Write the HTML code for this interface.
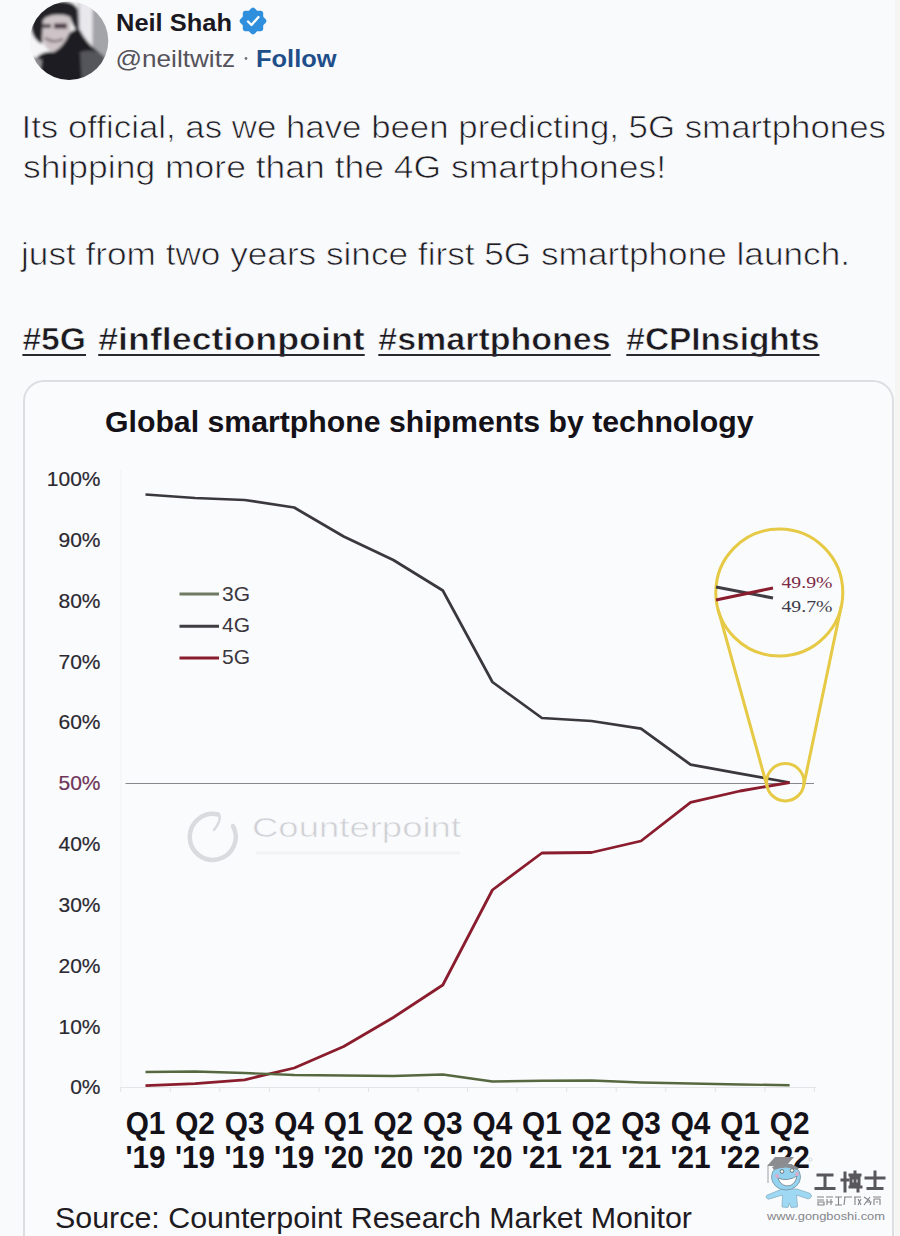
<!DOCTYPE html>
<html><head><meta charset="utf-8">
<style>
html,body{margin:0;padding:0;width:900px;height:1236px;overflow:hidden;background:#f9fafc;}
svg{display:block;}
text{font-family:"Liberation Sans",sans-serif;}
</style></head>
<body>
<svg width="900" height="1236" viewBox="0 0 900 1236">
<defs>
<clipPath id="av"><circle cx="69" cy="40.8" r="39.3"/></clipPath>
<filter id="blur1" x="-20%" y="-20%" width="140%" height="140%"><feGaussianBlur stdDeviation="1.6"/></filter>
</defs>
<rect x="0" y="0" width="900" height="1236" fill="#f9fafc"/>
<rect x="895" y="0" width="5" height="1236" fill="#f6f5f3"/>

<!-- avatar -->
<g clip-path="url(#av)">
 <g filter="url(#blur1)">
  <rect x="26" y="0" width="86" height="84" fill="#f5f5f7"/>
  <rect x="78" y="0" width="34" height="84" fill="#c2c2c7"/>
  <rect x="80" y="0" width="12" height="52" fill="#e9e8ec"/>
  <rect x="93" y="0" width="18" height="84" fill="#a3a3aa"/>
  <path d="M31 28 Q33 2 55 1 Q75 0 78 10 L79 34 Q73 27 70 17 Q57 12 45 18 L42 44 Q33 40 31 28 Z" fill="#232226"/>
  <path d="M43 20 Q56 12 70 17 Q72 30 70 42 Q63 52 53 52 Q44 49 42 38 Z" fill="#cdc4c7"/>
  <rect x="43" y="24" width="8" height="4" fill="#4e4448"/>
  <rect x="54" y="23.5" width="13" height="5" fill="#4a3440"/>
  <path d="M45 38 Q54 44 63 39" stroke="#7a6e72" stroke-width="2.2" fill="none"/>
  <path d="M34 60 Q42 50 54 52 Q64 46 69 34 Q74 28 80 30 Q86 42 96 50 Q104 56 110 66 L110 90 L30 90 Z" fill="#1e1d22"/>
  <path d="M80 52 Q94 48 104 56 L110 84 L82 84 Z" fill="#55545b"/>
  <path d="M26 58 Q34 56 42 60 L41 70 Q34 70 26 68 Z" fill="#8e8d93"/>
 </g>
</g>

<!-- name -->
<text x="116" y="30.6" font-size="24" font-weight="700" fill="#1a1820" textLength="116" lengthAdjust="spacingAndGlyphs">Neil Shah</text>
<g transform="translate(253,21)">
  <path d="M13.40 0.00 L13.34 0.52 L13.15 1.03 L12.86 1.52 L12.48 1.98 L12.06 2.40 L11.63 2.79 L11.22 3.16 L10.85 3.53 L10.56 3.90 L10.35 4.29 L10.22 4.71 L10.17 5.18 L10.17 5.69 L10.20 6.25 L10.23 6.83 L10.23 7.43 L10.17 8.02 L10.03 8.57 L9.80 9.06 L9.48 9.48 L9.06 9.80 L8.57 10.03 L8.02 10.17 L7.43 10.23 L6.83 10.23 L6.25 10.20 L5.69 10.17 L5.18 10.17 L4.71 10.22 L4.29 10.35 L3.90 10.56 L3.53 10.85 L3.16 11.22 L2.79 11.63 L2.40 12.06 L1.98 12.48 L1.52 12.86 L1.03 13.15 L0.52 13.34 L0.00 13.40 L-0.52 13.34 L-1.03 13.15 L-1.52 12.86 L-1.98 12.48 L-2.40 12.06 L-2.79 11.63 L-3.16 11.22 L-3.53 10.85 L-3.90 10.56 L-4.29 10.35 L-4.71 10.22 L-5.18 10.17 L-5.69 10.17 L-6.25 10.20 L-6.83 10.23 L-7.43 10.23 L-8.02 10.17 L-8.57 10.03 L-9.06 9.80 L-9.48 9.48 L-9.80 9.06 L-10.03 8.57 L-10.17 8.02 L-10.23 7.43 L-10.23 6.83 L-10.20 6.25 L-10.17 5.69 L-10.17 5.18 L-10.22 4.71 L-10.35 4.29 L-10.56 3.90 L-10.85 3.53 L-11.22 3.16 L-11.63 2.79 L-12.06 2.40 L-12.48 1.98 L-12.86 1.52 L-13.15 1.03 L-13.34 0.52 L-13.40 0.00 L-13.34 -0.52 L-13.15 -1.03 L-12.86 -1.52 L-12.48 -1.98 L-12.06 -2.40 L-11.63 -2.79 L-11.22 -3.16 L-10.85 -3.53 L-10.56 -3.90 L-10.35 -4.29 L-10.22 -4.71 L-10.17 -5.18 L-10.17 -5.69 L-10.20 -6.25 L-10.23 -6.83 L-10.23 -7.43 L-10.17 -8.02 L-10.03 -8.57 L-9.80 -9.06 L-9.48 -9.48 L-9.06 -9.80 L-8.57 -10.03 L-8.02 -10.17 L-7.43 -10.23 L-6.83 -10.23 L-6.25 -10.20 L-5.69 -10.17 L-5.18 -10.17 L-4.71 -10.22 L-4.29 -10.35 L-3.90 -10.56 L-3.53 -10.85 L-3.16 -11.22 L-2.79 -11.63 L-2.40 -12.06 L-1.98 -12.48 L-1.52 -12.86 L-1.03 -13.15 L-0.52 -13.34 L-0.00 -13.40 L0.52 -13.34 L1.03 -13.15 L1.52 -12.86 L1.98 -12.48 L2.40 -12.06 L2.79 -11.63 L3.16 -11.22 L3.53 -10.85 L3.90 -10.56 L4.29 -10.35 L4.71 -10.22 L5.18 -10.17 L5.69 -10.17 L6.25 -10.20 L6.83 -10.23 L7.43 -10.23 L8.02 -10.17 L8.57 -10.03 L9.06 -9.80 L9.48 -9.48 L9.80 -9.06 L10.03 -8.57 L10.17 -8.02 L10.23 -7.43 L10.23 -6.83 L10.20 -6.25 L10.17 -5.69 L10.17 -5.18 L10.22 -4.71 L10.35 -4.29 L10.56 -3.90 L10.85 -3.53 L11.22 -3.16 L11.63 -2.79 L12.06 -2.40 L12.48 -1.98 L12.86 -1.52 L13.15 -1.03 L13.34 -0.52Z" fill="#2f8fdc"/>
  <path d="M-5 0.5 L-1.5 4 L5.5 -4" stroke="#fff" stroke-width="2.3" fill="none" stroke-linecap="round" stroke-linejoin="round"/>
</g>
<text x="115.5" y="66.7" font-size="24" fill="#55535a" textLength="119.5" lengthAdjust="spacingAndGlyphs">@neiltwitz</text>
<circle cx="246" cy="58.5" r="1.4" fill="#77757a"/>
<text x="256" y="66.7" font-size="24" font-weight="700" fill="#1f4f8a" textLength="80.5" lengthAdjust="spacingAndGlyphs">Follow</text>

<!-- tweet text -->
<g fill="#1f1d24" font-size="31.5" stroke="#f9fafc" stroke-width="0.7">
<text x="21.5" y="137.5" textLength="864.5" lengthAdjust="spacingAndGlyphs">Its official, as we have been predicting, 5G smartphones</text>
<text x="23" y="178.3" textLength="643" lengthAdjust="spacingAndGlyphs">shipping more than the 4G smartphones!</text>
<text x="21" y="265" textLength="829" lengthAdjust="spacingAndGlyphs">just from two years since first 5G smartphone launch.</text>
</g>
<g fill="#1c1a20" font-size="31" font-weight="700" stroke="#f9fafc" stroke-width="0.6">
<text x="22.4" y="350.3" textLength="63.6" lengthAdjust="spacingAndGlyphs">#5G</text>
<text x="98.2" y="350.3" textLength="266.5" lengthAdjust="spacingAndGlyphs">#inflectionpoint</text>
<text x="378.3" y="350.3" textLength="232.4" lengthAdjust="spacingAndGlyphs">#smartphones</text>
<text x="626.3" y="350.3" textLength="193.2" lengthAdjust="spacingAndGlyphs">#CPInsights</text>
</g>
<g fill="#2a282e">
<rect x="22.4" y="354" width="63.6" height="2"/>
<rect x="98.2" y="354" width="266.5" height="2"/>
<rect x="378.3" y="354" width="232.4" height="2"/>
<rect x="626.3" y="354" width="193.2" height="2"/>
</g>

<!-- card -->
<rect x="24" y="381" width="869" height="900" rx="20" ry="20" fill="#fafbfd" stroke="#dddee2" stroke-width="2"/>

<!-- chart title -->
<text x="105" y="432.3" font-size="30" font-weight="700" fill="#141218" textLength="648.5" lengthAdjust="spacingAndGlyphs">Global smartphone shipments by technology</text>

<!-- y axis labels -->
<g font-size="21" fill="#2a2830" stroke="#2a2830" stroke-width="0.2" text-anchor="end">
<text x="100.5" y="486">100%</text>
<text x="100.5" y="546.8">90%</text>
<text x="100.5" y="607.7">80%</text>
<text x="100.5" y="668.5">70%</text>
<text x="100.5" y="729.4">60%</text>
<text x="100.5" y="790.2" fill="#6e3458" stroke="#6e3458">50%</text>
<text x="100.5" y="851">40%</text>
<text x="100.5" y="911.9">30%</text>
<text x="100.5" y="972.7">20%</text>
<text x="100.5" y="1033.6">10%</text>
<text x="100.5" y="1094.4">0%</text>
</g>
<line x1="121" y1="470" x2="121" y2="1088" stroke="#f1f2f5" stroke-width="1"/>
<line x1="121" y1="1087.5" x2="816" y2="1087.5" stroke="#e4e5e8" stroke-width="1.2"/>
<line x1="120.7" y1="1087" x2="120.7" y2="1092" stroke="#e2e3e6" stroke-width="1"/><line x1="170.3" y1="1087" x2="170.3" y2="1092" stroke="#e2e3e6" stroke-width="1"/><line x1="219.8" y1="1087" x2="219.8" y2="1092" stroke="#e2e3e6" stroke-width="1"/><line x1="269.4" y1="1087" x2="269.4" y2="1092" stroke="#e2e3e6" stroke-width="1"/><line x1="318.9" y1="1087" x2="318.9" y2="1092" stroke="#e2e3e6" stroke-width="1"/><line x1="368.5" y1="1087" x2="368.5" y2="1092" stroke="#e2e3e6" stroke-width="1"/><line x1="418.0" y1="1087" x2="418.0" y2="1092" stroke="#e2e3e6" stroke-width="1"/><line x1="467.6" y1="1087" x2="467.6" y2="1092" stroke="#e2e3e6" stroke-width="1"/><line x1="517.1" y1="1087" x2="517.1" y2="1092" stroke="#e2e3e6" stroke-width="1"/><line x1="566.7" y1="1087" x2="566.7" y2="1092" stroke="#e2e3e6" stroke-width="1"/><line x1="616.2" y1="1087" x2="616.2" y2="1092" stroke="#e2e3e6" stroke-width="1"/><line x1="665.8" y1="1087" x2="665.8" y2="1092" stroke="#e2e3e6" stroke-width="1"/><line x1="715.3" y1="1087" x2="715.3" y2="1092" stroke="#e2e3e6" stroke-width="1"/><line x1="764.9" y1="1087" x2="764.9" y2="1092" stroke="#e2e3e6" stroke-width="1"/><line x1="814.4" y1="1087" x2="814.4" y2="1092" stroke="#e2e3e6" stroke-width="1"/>

<!-- watermark counterpoint -->
<g>
  <path d="M218 814.5 A23 23 0 1 0 233 826" fill="none" stroke="#dadbde" stroke-width="4.5" stroke-linecap="round"/>
  <path d="M219 814 Q222 820 214 830" fill="none" stroke="#dadbde" stroke-width="2.5" stroke-linecap="round"/>
  <text x="252" y="836.5" font-size="28" fill="#cfd0d4" stroke="#f9fafc" stroke-width="0.6" textLength="209" lengthAdjust="spacingAndGlyphs">Counterpoint</text>
  <rect x="256" y="851.5" width="204" height="3" fill="#f2f3f5"/>
</g>

<!-- 50% line -->
<line x1="125.5" y1="783.5" x2="814" y2="783.5" stroke="#8a888f" stroke-width="1.15"/>

<!-- legend -->
<g stroke-width="3">
<line x1="179.5" y1="594" x2="219" y2="594" stroke="#6f7a62"/>
<line x1="179.5" y1="626.3" x2="219" y2="626.3" stroke="#3f3c42"/>
<line x1="179.5" y1="658" x2="219" y2="658" stroke="#8a1d2d"/>
</g>
<g font-size="21" fill="#3a373f">
<text x="222" y="601">3G</text>
<text x="222" y="632">4G</text>
<text x="222" y="664.3">5G</text>
</g>

<!-- data lines -->
<polyline fill="none" stroke="#3a383d" stroke-width="2.7" stroke-linejoin="round" points="145.5,494.5 195,498 244.6,500 294.2,507.5 343.7,536.5 393.3,560 442.8,590.5 492.4,682 541.9,718 591.5,721 641,728.7 690.6,764.7 740.1,773.6 789.6,782.5"/>
<polyline fill="none" stroke="#8a1d2d" stroke-width="2.8" stroke-linejoin="round" points="145.5,1085.6 195,1083.7 244.6,1079.8 294.2,1068 343.7,1046.5 393.3,1017.5 442.8,985 492.4,890 541.9,853 591.5,852.5 641,841 690.6,802.4 740.1,791 789.6,782.5"/>
<polyline fill="none" stroke="#56683f" stroke-width="2.4" stroke-linejoin="round" points="145.5,1072 195,1071.5 244.6,1073 294.2,1075 343.7,1075.5 393.3,1076 442.8,1074.5 492.4,1081.5 541.9,1080.8 591.5,1080.5 641,1082.5 690.6,1083.5 740.1,1084.5 789.6,1085.2"/>

<!-- magnifier -->
<g fill="none" stroke="#e6c944" stroke-width="3">
  <circle cx="779.3" cy="592.5" r="63.5"/>
  <circle cx="785.3" cy="782.2" r="18.7"/>
  <line x1="718.1" y1="609.4" x2="767.3" y2="787.2"/>
  <line x1="841.4" y1="605.5" x2="803.6" y2="786.0"/>
</g>
<line x1="716" y1="587" x2="773" y2="598" stroke="#3f3c42" stroke-width="3"/>
<line x1="716" y1="600" x2="773" y2="588" stroke="#8a1d2d" stroke-width="3"/>
<g style="font-family:'Liberation Serif',serif" font-size="16.5">
<text x="781.5" y="587.6" fill="#7c2a48" style="font-family:'Liberation Serif',serif" textLength="51" lengthAdjust="spacingAndGlyphs">49.9%</text>
<text x="781.5" y="611.6" fill="#3d3b4a" style="font-family:'Liberation Serif',serif" textLength="51" lengthAdjust="spacingAndGlyphs">49.7%</text>
</g>

<!-- x labels -->
<g font-size="31" font-weight="700" fill="#141218" text-anchor="middle">
<g transform="translate(145.50,0) scale(0.96,1)"><text x="0" y="1134">Q1</text><text x="0" y="1168.3">'19</text></g>
<g transform="translate(195.05,0) scale(0.96,1)"><text x="0" y="1134">Q2</text><text x="0" y="1168.3">'19</text></g>
<g transform="translate(244.60,0) scale(0.96,1)"><text x="0" y="1134">Q3</text><text x="0" y="1168.3">'19</text></g>
<g transform="translate(294.15,0) scale(0.96,1)"><text x="0" y="1134">Q4</text><text x="0" y="1168.3">'19</text></g>
<g transform="translate(343.70,0) scale(0.96,1)"><text x="0" y="1134">Q1</text><text x="0" y="1168.3">'20</text></g>
<g transform="translate(393.25,0) scale(0.96,1)"><text x="0" y="1134">Q2</text><text x="0" y="1168.3">'20</text></g>
<g transform="translate(442.80,0) scale(0.96,1)"><text x="0" y="1134">Q3</text><text x="0" y="1168.3">'20</text></g>
<g transform="translate(492.35,0) scale(0.96,1)"><text x="0" y="1134">Q4</text><text x="0" y="1168.3">'20</text></g>
<g transform="translate(541.90,0) scale(0.96,1)"><text x="0" y="1134">Q1</text><text x="0" y="1168.3">'21</text></g>
<g transform="translate(591.45,0) scale(0.96,1)"><text x="0" y="1134">Q2</text><text x="0" y="1168.3">'21</text></g>
<g transform="translate(641.00,0) scale(0.96,1)"><text x="0" y="1134">Q3</text><text x="0" y="1168.3">'21</text></g>
<g transform="translate(690.55,0) scale(0.96,1)"><text x="0" y="1134">Q4</text><text x="0" y="1168.3">'21</text></g>
<g transform="translate(740.10,0) scale(0.96,1)"><text x="0" y="1134">Q1</text><text x="0" y="1168.3">'22</text></g>
<g transform="translate(789.65,0) scale(0.96,1)"><text x="0" y="1134">Q2</text><text x="0" y="1168.3">'22</text></g>
</g>

<!-- source -->
<text x="55" y="1227.5" font-size="30" fill="#1e1c22" textLength="637" lengthAdjust="spacingAndGlyphs">Source: Counterpoint Research Market Monitor</text>

<!-- gongboshi watermark -->
<g>
  <!-- mascot -->
  <path d="M767 1166 L775 1157 L794 1157 L786 1166 Z" fill="#8c8c90"/>
  <line x1="768" y1="1166" x2="768" y2="1183" stroke="#a0a0a4" stroke-width="1"/>
  <path d="M782 1189 L770 1194 Q765 1195 766.5 1198 Q768 1200 771 1198.5 L782.5 1195 L782 1207 L788 1207.5 L789.5 1203 L791 1207.5 L797.5 1207 L796.5 1195 L807 1198.5 Q810.5 1199.5 811.5 1196 Q811 1193 807.5 1192.5 L797 1189 Z" fill="#9fd8f2" stroke="#86b0c4" stroke-width="0.8"/>
  <ellipse cx="786" cy="1177" rx="14.5" ry="13" fill="#94d3f0" stroke="#7d9aa8" stroke-width="0.9"/>
  <path d="M772 1167 Q786 1160 799 1168 L797 1170 Q786 1165 774 1170 Z" fill="#8a8d92"/>
  <path d="M778 1178 Q787 1182 797 1176 Q795 1186 787 1186 Q780 1185 778 1178 Z" fill="#ffffff" stroke="#6d7d86" stroke-width="0.8"/>
  <circle cx="782" cy="1171.5" r="1.8" fill="#fff" stroke="#555" stroke-width="0.8"/>
  <circle cx="792" cy="1170.5" r="1.8" fill="#fff" stroke="#555" stroke-width="0.8"/>
  <circle cx="777" cy="1176" r="2" fill="#f0a0c0" opacity="0.8"/>
  <circle cx="797" cy="1174" r="2" fill="#f0a0c0" opacity="0.8"/>
  <circle cx="810.5" cy="1159.5" r="1.6" fill="none" stroke="#bbb" stroke-width="0.5"/>
  <!-- 工博士 -->
  <g stroke="#58585c" stroke-width="3" fill="none" stroke-linecap="square">
    <path d="M818 1175 L832 1175 M825 1175 L825 1188 M816 1188.5 L834 1188.5"/>
    <path d="M842 1180 L848 1180 M845 1173 L845 1191"/>
    <path d="M850 1175 L860 1175 M851 1178 L859 1178 L859 1184 L851 1184 Z M855 1172 L855 1186 M850 1187 L861 1187 M858 1185 L858 1191"/>
    <path d="M866 1178 L884 1178 M875 1172 L875 1188 M868 1188.5 L882 1188.5"/>
  </g>
  <!-- 智能工厂服务商 -->
  <g stroke="#838387" stroke-width="1.1" fill="none">
    <path d="M817 1197 L824 1197 M817 1200 L824 1200 M818 1202 L824 1202 L824 1205 L818 1205 Z"/>
    <path d="M826 1197 L833 1197 M827 1199 L827 1205 M831 1199 L831 1205 M827 1202 L833 1202"/>
    <path d="M835 1197 L842 1197 M838.5 1197 L838.5 1205 M835 1205 L842 1205"/>
    <path d="M844 1197 L852 1197 M845 1197 L844 1205"/>
    <path d="M854 1197 L861 1197 M855 1197 L855 1205 M858 1199 L861 1205 M861 1199 L858 1205"/>
    <path d="M864 1197 L870 1201 M870 1197 L864 1205 M866 1202 L871 1202 L870 1205"/>
    <path d="M873 1197 L881 1197 M874 1199 L874 1205 M880 1199 L880 1205 M874 1199 L880 1199 M876 1202 L878 1202"/>
  </g>
  <text x="767" y="1219.7" font-size="11.5" fill="#85858a" textLength="118" lengthAdjust="spacingAndGlyphs">www.gongboshi.com</text>
</g>
</svg>
</body></html>
